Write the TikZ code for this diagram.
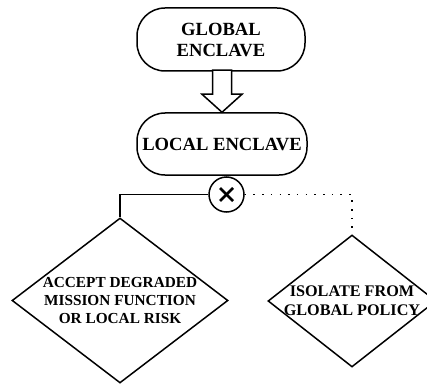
\documentclass[tikz,border=0pt]{standalone}
\usepackage{fontspec}
\setmainfont{Liberation Serif}
\usepackage{tikz}
\usetikzlibrary{calc,shapes.geometric}

\tikzset{
  enclave/.style={draw,line width=1.5pt,rounded corners=28pt,align=center,inner sep=0pt,
    font=\bfseries\fontsize{18.6}{21}\selectfont},
  choice/.style={draw,diamond,line width=1.5pt,align=center,inner sep=-2pt,
    font=\bfseries\fontsize{15.3}{18}\selectfont},
}

\begin{document}
\begin{tikzpicture}[x=1pt,y=1pt]
        \useasboundingbox (0,0) rectangle (427,386);

        % 上の枠
        \node[enclave,minimum width=168pt,minimum height=63pt] (global) at (221,346.5) {GLOBAL\\ENCLAVE};
        % 下の枠
        \node[enclave,minimum width=170pt,minimum height=62pt] (local) at (222,242) {LOCAL ENCLAVE};

        % 白抜き矢印
        \coordinate (tip) at (local.north);
        \draw[line width=1.5pt,fill=white] (tip) -- ($(tip)+(20,18)$) -- ($(tip)+(9.5,18)$) -- ($(tip)+(9.5,42)$)
        -- ($(tip)+(-9.5,42)$) -- ($(tip)+(-9.5,18)$) -- ($(tip)+(-20,18)$) -- cycle;

        % 分岐 (半径は17.5)
        \node[draw,circle,line width=1.5pt,minimum size=35pt,inner sep=0pt] (xor) at (226.5,191.5) {};
        \draw[line width=2.6pt] ($(xor)+(-6.5,-6.5)$) -- ($(xor)+(6.5,6.5)$);
        \draw[line width=2.6pt] ($(xor)+(-6.5,6.5)$) -- ($(xor)+(6.5,-6.5)$);

        % 左のひし形
        \node[choice,minimum width=216pt,minimum height=165pt,aspect=1.31] (accept) at (120,85.5)
        {ACCEPT DEGRADED\\MISSION FUNCTION\\OR LOCAL RISK};
        % 右のひし形
        \node[choice,minimum width=168pt,minimum height=132pt,aspect=1.27,
          font=\bfseries\fontsize{16.2}{19}\selectfont] (isolate) at (352,85)
        {ISOLATE FROM\\GLOBAL POLICY};

        % 線
        \draw[line width=1.5pt] (xor.west) -| (accept.north);
        \draw[line width=1.5pt,dash pattern=on 1.5pt off 7.2pt] (xor.east) -| (isolate.north);

\end{tikzpicture}
\end{document}
